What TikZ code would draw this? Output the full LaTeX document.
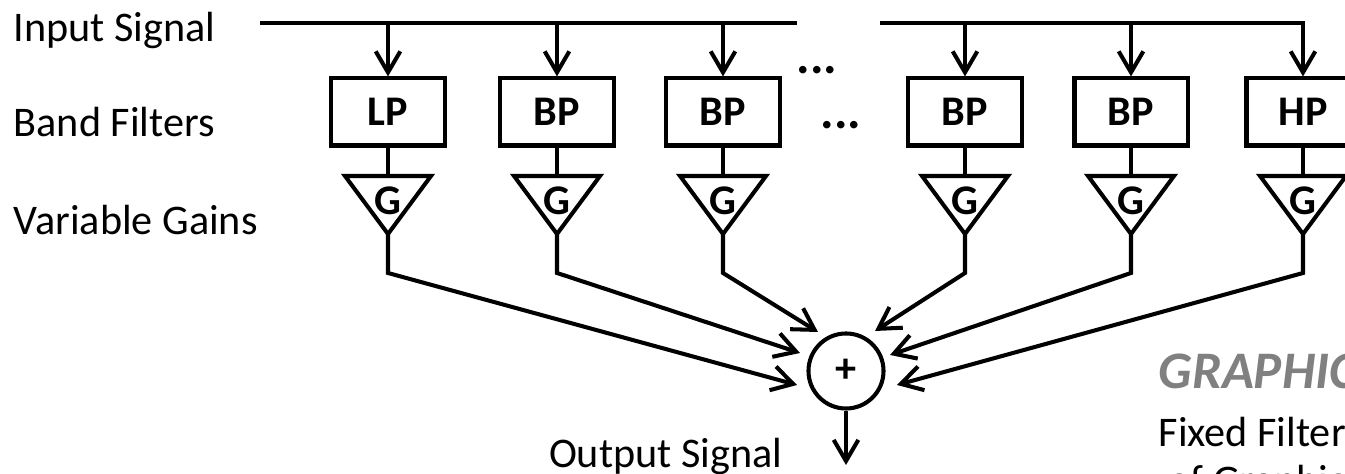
\documentclass[12pt,tikz,border=0pt]{standalone}
\usepackage{fontspec}
\setmainfont{Carlito}
\usepackage{tikz}
\usetikzlibrary{positioning,arrows.meta}

\begin{document}
\begin{tikzpicture}[x=0.01cm, y=-0.01cm,
    wire/.style={line width=1.15pt, line join=miter},
    feed/.style={wire, -{Straight Barb[length=6pt, width=7pt, line width=1.15pt]}},
    filt/.style={draw, wire, rectangle, minimum width=1.13cm, minimum height=0.67cm, inner sep=0pt, font=\bfseries},
    lbl/.style={anchor=base west, inner sep=0pt}]
    \useasboundingbox (0,0) rectangle (1345,474);
    \clip (0,0) rectangle (1345,474);

    % Row labels
    \node[lbl] (inlbl) at (13,42) {Input Signal};
    \node[lbl] (bandlbl) at (13,137) {Band Filters};
    \node[lbl] (gainlbl) at (13,235) {Variable Gains};

    % Filters and gain stages
    \foreach \x/\lbl [count=\i] in {388/LP, 557/BP, 723/BP, 965/BP, 1131/BP, 1303/HP} {
        \node[filt] (f\i) at (\x,112) {\lbl};
        \coordinate (gt\i) at (\x,176);
        \coordinate (gb\i) at (\x,234);
        \coordinate (k\i) at (\x,273);
        \draw[wire] (\x-43,176) -- (\x+43,176) -- (gb\i) -- cycle;
        \node[font=\bfseries, inner sep=0pt] (g\i) at (\x,201) {G};
        \draw[wire] (f\i) -- (gt\i);
    }

    % Input bus
    \coordinate (busA) at (260,23);
    \coordinate (busB) at (797,23);
    \coordinate (busC) at (880,23);
    \draw[wire] (busA) -- (busB);
    \draw[feed] (busC) -| (f6.north);
    \foreach \i in {1,2,3} \draw[feed] (f\i.north |- busA) -- (f\i.north);
    \foreach \i in {4,5} \draw[feed] (f\i.north |- busC) -- (f\i.north);

    % Gaps in the bank
    \node[font=\large\bfseries, anchor=base, inner sep=0pt] (dotsA) at (817,74) {...};
    \node[font=\large\bfseries, anchor=base, inner sep=0pt] (dotsB) at (841,129) {...};

    % Summing point
    \node[draw, wire, circle, minimum size=0.75cm, inner sep=0pt, font=\bfseries] (sum) at (846,371) {+};
    \foreach \i/\dx/\dy in {1/-49/14, 2/-46/-18, 3/-28/-39, 4/29/-40, 5/44/-16, 6/51/14}
        \draw[feed] (gb\i) -- (k\i) -- ([shift={(\dx,\dy)}]sum.center);

    % Output
    \coordinate (out) at (846,465);
    \draw[feed] (sum) -- (out);
    \node[anchor=base east, inner sep=0pt] (outlbl) at (783,468) {Output Signal};

    % Caption (cut off at the edge)
    \node[lbl, font=\fontsize{15}{18}\selectfont\bfseries\itshape, text=gray] (title) at (1158,389) {GRAPHIC};
    \node[lbl] (fixlbl) at (1158,447) {Fixed Filter};
    \node[lbl] (oflbl) at (1168,495) {of Graphic};
\end{tikzpicture}
\end{document}
